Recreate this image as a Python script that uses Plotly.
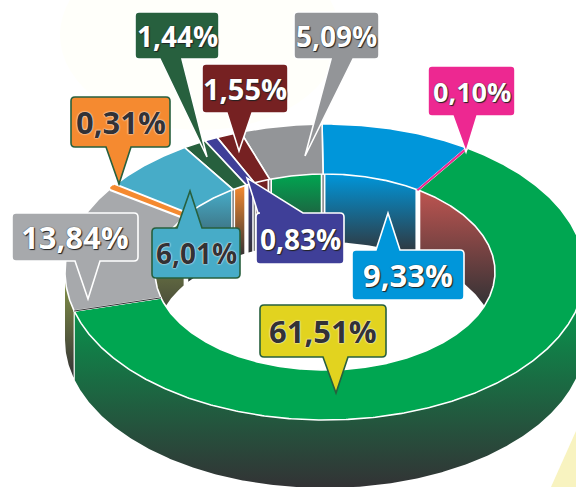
import numpy as np
import plotly.graph_objects as go

# ---- data (order: counter-clockwise from the pink sliver) ----
labels = ["0,10%", "9,33%", "5,09%", "1,55%", "0,83%", "1,44%", "6,01%", "0,31%", "13,84%", "61,51%"]
values = [0.10, 9.33, 5.09, 1.55, 0.83, 1.44, 6.01, 0.31, 13.84, 61.51]
top_colors = ["#ed2891", "#0096da", "#939598", "#762122", "#3f3f98", "#27603e", "#47acc8", "#f58a30", "#a7a9ac", "#00a651"]
wall_colors = [None, "#0096da", "#00a651", "#762122", "#3f3f98", "#f58a30", "#47acc8", "#808285", "#8a9a4a", "#bd5450"]

# ---- geometry / layout ----
W, H = 576, 487
CX, CY = 325, 272
RXO, RYO, RXI, RYI = 260, 148, 170, 98
DEPTH = 68
START = 56.7
DARK = "#333235"

total = sum(values)
edges = START + np.concatenate([[0], np.cumsum(values)]) * 360 / total


def arc(rx, ry, a0, a1, dy=0, cy=CY):
    n = max(2, int(abs(a1 - a0) * 2))
    t = np.radians(np.linspace(a0, a1, n))
    return CX + rx * np.cos(t), cy - ry * np.sin(t) + dy


def wall_trace(rx, ry, a0, a1, color, stop=None):
    x1, y1 = arc(rx, ry, a0, a1)
    x2, y2 = arc(rx, ry, a1, a0, DEPTH)
    xs, ys = np.r_[x1, x2, x1[0]], np.r_[y1, y2, y1[0]]
    return go.Scatter(
        x=xs, y=ys, mode="lines", fill="toself", hoverinfo="skip", showlegend=False,
        line=dict(color="rgba(0,0,0,0)", width=0),
        fillgradient=dict(type="vertical", start=float(ys.min()),
                          stop=float(stop if stop is not None else ys.max()),
                          colorscale=[[0, color], [1, DARK]]),
    )


fig = go.Figure()

# outer side wall (front half only)
a_gray_end = edges[9]
fig.add_trace(wall_trace(RXO, RYO, 180, a_gray_end - 0.5, wall_colors[8]))
fig.add_trace(wall_trace(RXO, RYO, a_gray_end + 0.5, 360, "#00a651"))

# inner walls (back half, visible through the hole)
for i in range(1, 10):
    if i == 7:
        continue
    a0, a1 = edges[i], edges[i + 1]
    stop = None
    if i == 9:
        a0, a1 = 0, START
        stop = CY + DEPTH / 2
    else:
        a1 = min(a1, 180) if i != 8 else 180
    gap = 0.8
    fig.add_trace(wall_trace(RXI, RYI, a0 + gap, a1 - gap, wall_colors[i], stop))

# thin grey separators between the inner walls
for i in [2, 3, 4, 6]:
    a = edges[i]
    xa, ya = arc(RXI, RYI, a, a + 0.001)
    fig.add_trace(go.Scatter(x=[xa[0], xa[0]], y=[ya[0], ya[0] + DEPTH], mode="lines",
                             line=dict(color="#808285", width=1.5),
                             hoverinfo="skip", showlegend=False))

# top surface of the ring
for i in [9, 1, 2, 3, 4, 5, 6, 8, 7, 0]:
    a0, a1 = edges[i], edges[i + 1]
    x1, y1 = arc(RXO, RYO, a0, a1)
    x2, y2 = arc(RXI, RYI, a1, a0)
    px, py = np.r_[x1, x2, x1[0]], np.r_[y1, y2, y1[0]]
    if i == 7:
        # white halo under the narrow orange slice
        fig.add_trace(go.Scatter(x=px, y=py, mode="lines", line=dict(color="white", width=6),
                                 hoverinfo="skip", showlegend=False))
        line = dict(color=top_colors[i], width=2)
    elif i == 0:
        line = dict(color=top_colors[i], width=1.1)
    else:
        line = dict(color="white", width=1.6)
    fig.add_trace(go.Scatter(x=px, y=py, mode="lines", fill="toself", fillcolor=top_colors[i],
                             hoverinfo="skip", showlegend=False, line=line))

# hairline between the grey and green slices
xo, yo = arc(RXO, RYO, a_gray_end, a_gray_end + 0.001)
xi, yi = arc(RXI, RYI, a_gray_end, a_gray_end + 0.001)
fig.add_trace(go.Scatter(x=[xo[0], xi[0]], y=[yo[0], yi[0]], mode="lines",
                         line=dict(color=DARK, width=1), hoverinfo="skip", showlegend=False))


def rbox(x0, y0, x1, y1, side, b0, b1, tx, ty, r=4):
    """Rounded callout path; tail on the top or bottom edge."""
    p = [f"M{x0+r},{y0}"]
    if side == "top":
        p += [f"L{b0},{y0}", f"L{tx},{ty}", f"L{b1},{y0}"]
    p += [f"L{x1-r},{y0}", f"Q{x1},{y0} {x1},{y0+r}", f"L{x1},{y1-r}", f"Q{x1},{y1} {x1-r},{y1}"]
    if side == "bottom":
        p += [f"L{b1},{y1}", f"L{tx},{ty}", f"L{b0},{y1}"]
    p += [f"L{x0+r},{y1}", f"Q{x0},{y1} {x0},{y1-r}", f"L{x0},{y0+r}", f"Q{x0},{y0} {x0+r},{y0}", "Z"]
    return "".join(p)


GREEN_EDGE = "#27603e"
callouts = [
    # label, box, tail side, tail base, tip, fill, border, text colour, font size
    ("13,84%", (12, 213, 138, 261), "bottom", 75, 100, 88, 299, "#a7a9ac", "white", "white", 31),
    ("0,31%", (71, 97, 170, 147), "bottom", 106, 131, 119, 184, "#f58a30", GREEN_EDGE, DARK, 31),
    ("1,44%", (135, 12, 219, 59), "bottom", 160, 182, 207, 157, GREEN_EDGE, "white", "white", 28),
    ("1,55%", (202, 64, 288, 113), "bottom", 227, 252, 239, 151, "#762122", "white", "white", 29),
    ("5,09%", (294, 12, 379, 59), "bottom", 331, 353, 305, 156, "#939598", "white", "white", 28),
    ("0,10%", (428, 66, 515, 116), "bottom", 453, 477, 466, 152, "#ed2891", "white", "white", 27),
    ("0,83%", (256, 213, 344, 264), "top", 258, 303, 247, 178, "#3f3f98", "white", "white", 28),
    ("9,33%", (352, 250, 464, 300), "top", 376, 400, 388, 213, "#0096da", "white", "white", 31),
    ("6,01%", (152, 228, 240, 278), "top", 177, 202, 190, 191, "#47acc8", GREEN_EDGE, DARK, 28),
    ("61,51%", (260, 305, 386, 357), "bottom", 323, 348, 336, 393, "#e2d31f", GREEN_EDGE, DARK, 31),
]

shapes = [
    dict(type="circle", xref="x", yref="y", x0=60, y0=-60, x1=340, y1=130,
         fillcolor="#fffffa", line_width=0, layer="below"),
    dict(type="path", xref="x", yref="y", path="M551,487L576,431L576,487Z",
         fillcolor="#f8f3c0", line_width=0, layer="below"),
]
annotations = []
for text, (x0, y0, x1, y1), side, b0, b1, tx, ty, fill, edge, tc, fs in callouts:
    shapes.append(dict(type="path", xref="x", yref="y", layer="above",
                       path=rbox(x0, y0, x1, y1, side, b0, b1, tx, ty),
                       fillcolor=fill, line=dict(color=edge, width=1.6)))
    shadow = ("0 0 1px #222, 1px 1px 1px #222" if tc == "white"
              else "0 0 1px #fff, 0 0 2px #fff")
    annotations.append(dict(x=(x0 + x1) / 2, y=(y0 + y1) / 2, xref="x", yref="y", text=text,
                            showarrow=False, xanchor="center", yanchor="middle",
                            font=dict(family="Open Sans", size=fs, weight=700, color=tc, shadow=shadow)))

fig.update_layout(
    width=W, height=H, margin=dict(l=0, r=0, t=0, b=0),
    paper_bgcolor="white", plot_bgcolor="rgba(0,0,0,0)",
    xaxis=dict(range=[0, W], visible=False, fixedrange=True),
    yaxis=dict(range=[H, 0], visible=False, fixedrange=True),
    shapes=shapes, annotations=annotations, showlegend=False,
)
fig.write_html("out.html", config=dict(displayModeBar=False),
               post_script="document.body.style.margin='0';document.body.style.overflow='hidden';")
